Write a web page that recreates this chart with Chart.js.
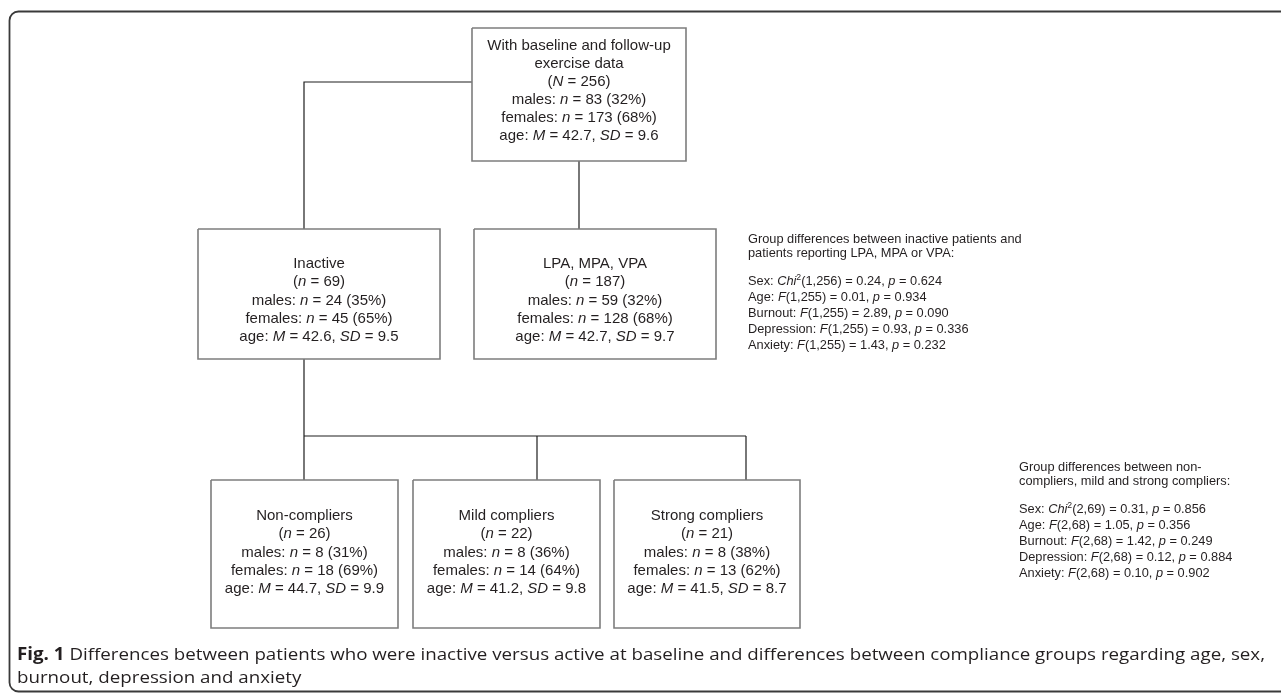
<!DOCTYPE html>
<html>
<head>
<meta charset="utf-8">
<script src="https://cdn.jsdelivr.net/npm/chart.js@4.4.1/dist/chart.umd.min.js"></script>
<style>
  html, body { margin: 0; padding: 0; background: #fff; overflow: hidden; }
  canvas { display: block; }
</style>
</head>
<body>
<canvas id="flowChart" width="1281" height="694" style="width:1281px;height:694px"></canvas>
<script>
// group data (top box, activity split, compliance split)
var groupTitle = [
  ['With baseline and follow-up', 'exercise data'],
  ['Inactive'],
  ['LPA, MPA, VPA'],
  ['Non-compliers'],
  ['Mild compliers'],
  ['Strong compliers']
];
var groupN = [256, 69, 187, 26, 22, 21];
var malesN = [83, 24, 59, 8, 8, 8];
var malesPct = [32, 35, 32, 31, 36, 38];
var femalesN = [173, 45, 128, 18, 14, 13];
var femalesPct = [68, 65, 68, 69, 64, 62];
var ageM = [42.7, 42.6, 42.7, 44.7, 41.2, 41.5];
var ageSD = [9.6, 9.5, 9.7, 9.9, 9.8, 8.7];

// group difference tests
var testLabels = ['Sex', 'Age', 'Burnout', 'Depression', 'Anxiety'];
var activityHeader = ['Group differences between inactive patients and', 'patients reporting LPA, MPA or VPA:'];
var activityDf = ['1,256', '1,255', '1,255', '1,255', '1,255'];
var activityValue = [0.24, 0.01, 2.89, 0.93, 1.43];
var activityP = [0.624, 0.934, 0.090, 0.336, 0.232];
var complianceHeader = ['Group differences between non-', 'compliers, mild and strong compliers:'];
var complianceDf = ['2,69', '2,68', '2,68', '2,68', '2,68'];
var complianceValue = [0.31, 1.05, 1.42, 0.12, 0.10];
var complianceP = [0.856, 0.356, 0.249, 0.884, 0.902];

var captionBold = 'Fig. 1';
var captionLines = [
  ' Differences between patients who were inactive versus active at baseline and differences between compliance groups regarding age, sex,',
  'burnout, depression and anxiety'
];

// layout (page coordinates)
var boxRects = [
  [472, 28, 686, 161],
  [198, 229, 440, 359],
  [474, 229, 716, 359],
  [211, 480, 398, 628],
  [413, 480, 600, 628],
  [614, 480, 800, 628]
];
var boxFirstLine = [46, 264, 264, 516, 516, 516];
var boxLineGap = [18, 18.3, 18.3, 18.3, 18.3, 18.3];
var connectorPaths = [
  [[472, 82], [304, 82], [304, 229]],
  [[579, 161], [579, 229]],
  [[304, 359], [304, 480]],
  [[304, 436], [746, 436]],
  [[537, 436], [537, 480]],
  [[746, 436], [746, 480]]
];
var statsBlocks = [
  { x: 748, y: 239, header: activityHeader, df: activityDf, value: activityValue, p: activityP },
  { x: 1019, y: 467, header: complianceHeader, df: complianceDf, value: complianceValue, p: complianceP }
];

var textColor = '#231f20';
var boxFont = '"Liberation Sans", Arial, sans-serif';

function parseRich(str) {
  var segs = [], cur = '', italic = false, sup = false;
  for (var ch of str) {
    if (ch === '_' || ch === '^') {
      if (cur) segs.push({ t: cur, i: italic, s: sup });
      cur = '';
      if (ch === '_') italic = !italic; else sup = !sup;
    } else {
      cur += ch;
    }
  }
  if (cur) segs.push({ t: cur, i: italic, s: sup });
  return segs;
}

function drawRich(ctx, str, x, y, size, align) {
  var segs = parseRich(str);
  var total = 0;
  segs.forEach(function (s) {
    ctx.font = (s.i ? 'italic ' : '') + (s.s ? size * 0.68 : size) + 'px ' + boxFont;
    s.w = ctx.measureText(s.t).width;
    total += s.w;
  });
  var sx = align === 'center' ? x - total / 2 : x;
  ctx.textAlign = 'left';
  ctx.textBaseline = 'middle';
  segs.forEach(function (s) {
    ctx.font = (s.i ? 'italic ' : '') + (s.s ? size * 0.68 : size) + 'px ' + boxFont;
    ctx.fillText(s.t, sx, s.s ? y - size * 0.28 : y);
    sx += s.w;
  });
}

function boxLines(i) {
  return groupTitle[i].concat([
    '(' + (i === 0 ? '_N_' : '_n_') + ' = ' + groupN[i] + ')',
    'males: _n_ = ' + malesN[i] + ' (' + malesPct[i] + '%)',
    'females: _n_ = ' + femalesN[i] + ' (' + femalesPct[i] + '%)',
    'age: _M_ = ' + ageM[i].toFixed(1) + ', _SD_ = ' + ageSD[i].toFixed(1)
  ]);
}

function testLine(b, k) {
  return testLabels[k] + ': ' + (k === 0 ? '_Chi_^2^' : '_F_') + '(' + b.df[k] + ') = ' +
    b.value[k].toFixed(2) + ', _p_ = ' + b.p[k].toFixed(3);
}

var datasets = [];
boxRects.forEach(function (r) {
  datasets.push({
    data: [{ x: r[0], y: r[1] }, { x: r[2], y: r[1] }, { x: r[2], y: r[3] }, { x: r[0], y: r[3] }, { x: r[0], y: r[1] }],
    showLine: true, borderColor: '#7d7d7d', borderWidth: 1.6, pointRadius: 0, fill: false, tension: 0
  });
});
connectorPaths.forEach(function (path) {
  datasets.push({
    data: path.map(function (p) { return { x: p[0], y: p[1] }; }),
    showLine: true, borderColor: '#1e1e1e', borderWidth: 1.2, pointRadius: 0, fill: false, tension: 0
  });
});

var flowText = {
  id: 'flowText',
  beforeDatasetsDraw: function (chart) {
    var ctx = chart.ctx;
    var sx = chart.scales.x, sy = chart.scales.y;
    ctx.save();
    ctx.strokeStyle = '#3a3a3a';
    ctx.lineWidth = 1.8;
    ctx.beginPath();
    ctx.roundRect(sx.getPixelForValue(9.5), sy.getPixelForValue(11.5), 1400, 680, 9);
    ctx.stroke();
    ctx.restore();
  },
  afterDatasetsDraw: function (chart) {
    var ctx = chart.ctx;
    var sx = chart.scales.x, sy = chart.scales.y;
    ctx.save();
    ctx.fillStyle = textColor;

    boxRects.forEach(function (r, i) {
      var cx = sx.getPixelForValue((r[0] + r[2]) / 2);
      boxLines(i).forEach(function (line, j) {
        drawRich(ctx, line, cx, sy.getPixelForValue(boxFirstLine[i] + j * boxLineGap[i]), 15, 'center');
      });
    });

    statsBlocks.forEach(function (b) {
      var x = sx.getPixelForValue(b.x);
      b.header.forEach(function (line, j) {
        drawRich(ctx, line, x, sy.getPixelForValue(b.y + j * 14.5), 12.8, 'left');
      });
      testLabels.forEach(function (lbl, k) {
        drawRich(ctx, testLine(b, k), x, sy.getPixelForValue(b.y + 42 + k * 16), 12.8, 'left');
      });
    });

    // caption, squeezed to the figure width
    var capFont = '"Open Sans", "Noto Sans", sans-serif';
    ctx.textAlign = 'left';
    ctx.textBaseline = 'alphabetic';
    ctx.font = 'bold 17px ' + capFont;
    var wb = ctx.measureText(captionBold).width;
    ctx.font = '17px ' + capFont;
    var w1 = ctx.measureText(captionLines[0]).width;
    var k = (1265 - 17) / (wb + w1);
    ctx.save();
    ctx.translate(sx.getPixelForValue(17), sy.getPixelForValue(660));
    ctx.scale(k, 1);
    ctx.font = 'bold 17px ' + capFont;
    ctx.fillText(captionBold, 0, 0);
    ctx.font = '17px ' + capFont;
    ctx.fillText(captionLines[0], wb, 0);
    ctx.fillText(captionLines[1], 0, 23);
    ctx.restore();

    ctx.restore();
  }
};

new Chart(document.getElementById('flowChart'), {
  type: 'scatter',
  data: { datasets: datasets },
  options: {
    responsive: false,
    devicePixelRatio: 1,
    animation: false,
    layout: { padding: 0 },
    plugins: { legend: { display: false }, tooltip: { enabled: false } },
    scales: {
      x: { type: 'linear', min: 0, max: 1281, display: false },
      y: { type: 'linear', min: 0, max: 694, reverse: true, display: false }
    }
  },
  plugins: [flowText]
});
</script>
</body>
</html>
